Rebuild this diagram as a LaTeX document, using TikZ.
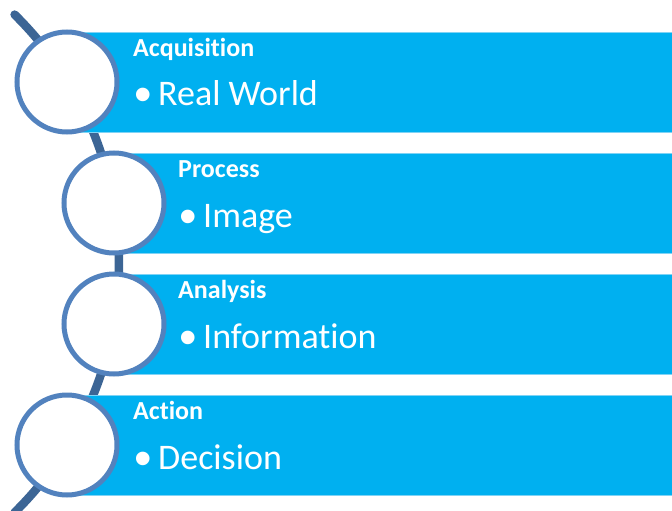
\documentclass[tikz,border=0pt]{standalone}
\usepackage{fontspec}
\setmainfont[RawFeature={-liga;-dlig;-clig}]{Carlito}
\newfontfamily\bulletfont{Liberation Sans}
\definecolor{barblue}{HTML}{00B0F0}
\definecolor{barline}{HTML}{7FD3F5}
\definecolor{ringblue}{HTML}{5282BE}
\definecolor{arcblue}{HTML}{3C6595}
\newcommand{\bul}{\makebox[24pt][l]{\raisebox{-6.5pt}{\bulletfont\fontsize{50}{50}\selectfont •}}}
\begin{document}
\begin{tikzpicture}[x=1pt,y=-1pt,
  bar/.style={fill=barblue,draw=barline,line width=0.8pt},
  ring/.style={circle,draw=ringblue,fill=white,line width=5pt,minimum size=100pt,inner sep=0pt},
  head/.style={anchor=base west,text=white,font=\fontsize{26}{26}\selectfont\bfseries,inner sep=0pt},
  item/.style={anchor=base west,text=white,font=\fontsize{36}{36}\selectfont,inner sep=0pt},
  spine/.style={draw=arcblue,line width=8.5pt,line cap=round}]
\useasboundingbox (0,0) rectangle (672,511);
% spine arc
\coordinate (ctr) at (-230,263.5);
\draw[spine] (ctr) ++(-45.5:349) arc[start angle=-45.5,end angle=45.5,radius=349];
% bars
\fill[bar] (67,32) rectangle (680,132);
\fill[bar] (114,153) rectangle (680,253);
\fill[bar] (114,274) rectangle (680,374);
\fill[bar] (67,395) rectangle (680,495);
\draw[draw=barline,line width=0.8pt] (90,32) -- (672,32) (90,132) -- (672,132)
  (137,153) -- (672,153) (137,253) -- (672,253)
  (137,274) -- (672,274) (137,374) -- (672,374)
  (90,395) -- (672,395) (90,495) -- (672,495);
% rings
\node[ring] (c1) at (67,82) {};
\node[ring] (c2) at (114,203) {};
\node[ring] (c3) at (114,324) {};
\node[ring] (c4) at (67,445) {};
% texts
\node[head] (h1) at (133,56.5) {Acquisition};
\node[item] (t1) at (134,105) {\bul Real World};
\node[head] (h2) at (178,177) {Process};
\node[item] (t2) at (179,227) {\bul Image};
\node[head] (h3) at (178,298) {Analysis};
\node[item] (t3) at (179,348) {\bul Information};
\node[head] (h4) at (133,419) {Action};
\node[item] (t4) at (134,469) {\bul Decision};
\end{tikzpicture}
\end{document}
